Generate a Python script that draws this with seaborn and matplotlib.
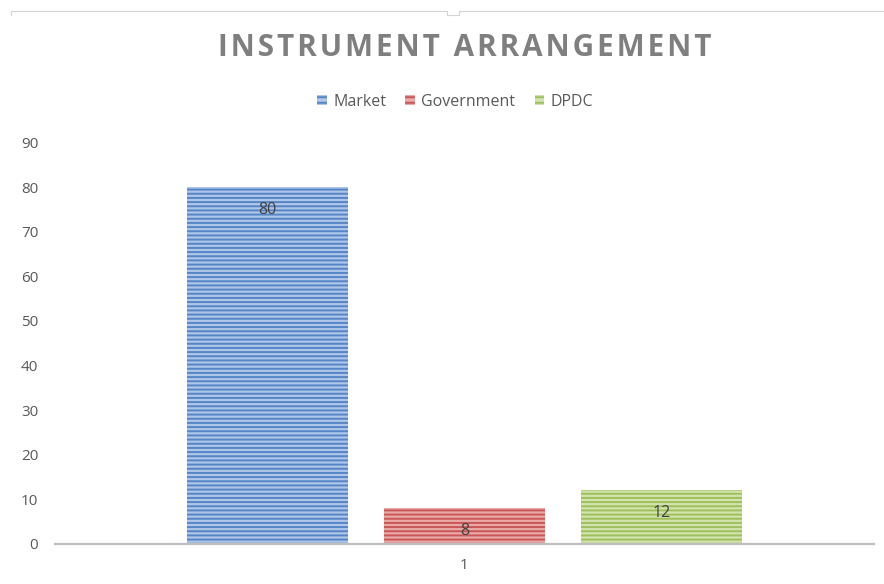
import matplotlib
matplotlib.use("Agg")
import matplotlib.pyplot as plt
from matplotlib.patches import Patch
from matplotlib.lines import Line2D
import seaborn as sns
import pandas as pd

# Chart data
categories = ["1"]
series = ["Market", "Government", "DPDC"]
values = [80, 8, 12]
y_ticks = [0, 10, 20, 30, 40, 50, 60, 70, 80, 90]

face_colors = ["#AFC6E9", "#EAA9A8", "#D2E3AD"]
stripe_colors = ["#5585C6", "#C85654", "#9EC05C"]

sns.set_theme(style="white")
plt.rcParams["font.family"] = ["Open Sans", "DejaVu Sans"]
plt.rcParams["hatch.linewidth"] = 1.4

df = pd.DataFrame({
    "category": categories * len(series),
    "series": series,
    "value": values,
})

fig = plt.figure(figsize=(8.84, 5.84), dpi=100)
ax = fig.add_axes([0.0622, 0.0685, 0.9265, 0.6877])

sns.barplot(data=df, x="category", y="value", hue="series", hue_order=series,
            palette=face_colors, width=0.7216, gap=0.181, ax=ax, legend=False,
            saturation=1)

for cont, fc, sc in zip(ax.containers, face_colors, stripe_colors):
    for bar in cont:
        bar.set_facecolor(fc)
        bar.set_edgecolor(sc)
        bar.set_hatch("-" * 4)
        bar.set_linewidth(0)
    ax.bar_label(cont, labels=[f"{v:g}" for v in cont.datavalues],
                 padding=-22, color="#404040", fontsize=11.5)

ax.set_xlim(-0.5, 0.5)
ax.set_ylim(0, 90)
ax.set_yticks(y_ticks)
ax.set_xlabel("")
ax.set_ylabel("")
ax.tick_params(axis="y", length=0, pad=12, labelsize=11, labelcolor="#595959")
ax.tick_params(axis="x", length=0, pad=10, labelsize=11, labelcolor="#595959")
for side in ["left", "right", "top"]:
    ax.spines[side].set_visible(False)
ax.spines["bottom"].set_color("#BFBFBF")
ax.spines["bottom"].set_linewidth(1.6)
ax.grid(False)

title = "\u200a".join("INSTRUMENT ARRANGEMENT")
fig.text(0.526, 0.918, title, ha="center", va="center",
         fontsize=21.3, fontweight="bold", color="#7F7F7F")

handles = [Patch(facecolor=fc, edgecolor=sc, hatch="-" * 3, linewidth=0)
           for fc, sc in zip(face_colors, stripe_colors)]
fig.legend(handles, series, loc="center", bbox_to_anchor=(0.515, 0.826),
           ncol=3, frameon=False, fontsize=11.5, labelcolor="#595959",
           handlelength=0.6, handleheight=0.6, handletextpad=0.4,
           columnspacing=1.2)

# Thin chart-area border along the top edge
border = "#D4D4D4"
yb, yn = 573 / 584, 569 / 584
fig.add_artist(Line2D([11 / 884, 11 / 884, 447 / 884], [yn, yb, yb], color=border, lw=0.8))
fig.add_artist(Line2D([459 / 884, 1], [yb, yb], color=border, lw=0.8))
fig.add_artist(Line2D([447 / 884, 447 / 884, 459 / 884, 459 / 884],
                      [yb, yn, yn, yb], color=border, lw=0.8))

fig.savefig("out.png", dpi=100, facecolor="white")
